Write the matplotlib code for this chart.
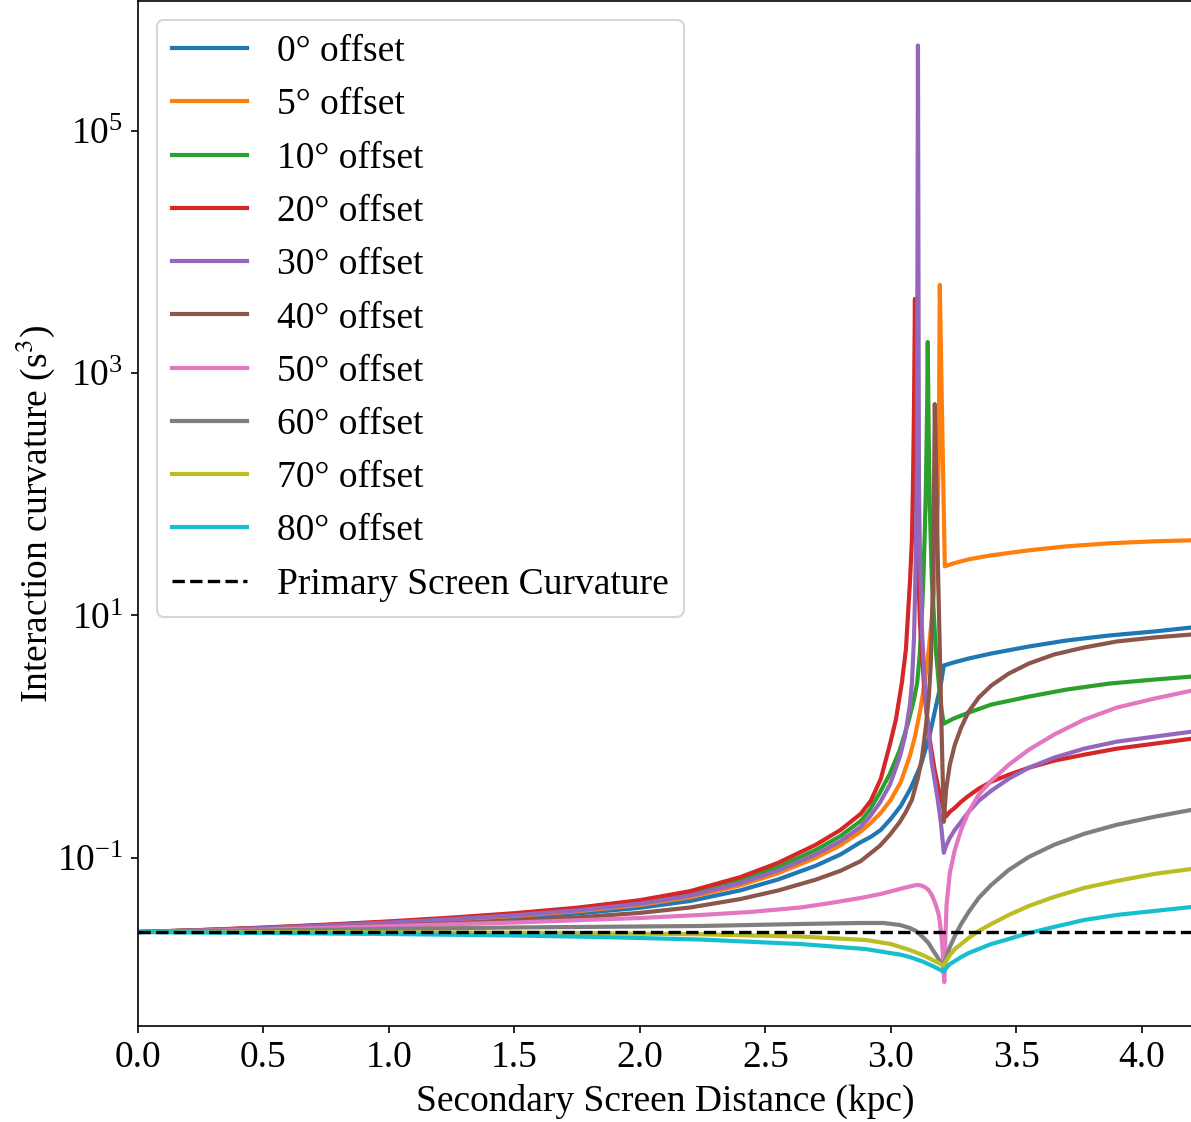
import matplotlib
matplotlib.use("Agg")
import matplotlib.pyplot as plt
from matplotlib.ticker import NullLocator

plt.rcParams['font.family'] = ['Liberation Serif', 'DejaVu Serif']
plt.rcParams['mathtext.fontset'] = 'stix'
plt.rcParams['font.size'] = 18
plt.rcParams['lines.linewidth'] = 2.0

# Secondary screen distance (kpc) and interaction curvature (s^3) per offset angle
x_0 = [0, 0.25, 0.5, 0.75, 1.0, 1.25, 1.5, 1.75, 2.0, 2.2, 2.4, 2.55, 2.7, 2.8,
       2.88, 2.92, 2.96, 3.0, 3.04, 3.08, 3.12, 3.155, 3.175, 3.183, 3.199,
       3.211, 3.25, 3.31, 3.40, 3.55, 3.70, 3.87, 4.05, 4.2]
y_0 = [0.02445, 0.02516, 0.02608, 0.02720, 0.02852, 0.03009, 0.03210, 0.03477,
       0.03875, 0.04410, 0.05396, 0.06628, 0.08602, 0.1069, 0.1348, 0.1491,
       0.1703, 0.2101, 0.2691, 0.3790, 0.5870, 1.039, 1.609, 1.910, 2.690,
       3.863, 4.090, 4.412, 4.853, 5.543, 6.214, 6.835, 7.377, 7.960]

x_5 = [0, 0.25, 0.5, 0.75, 1.0, 1.25, 1.5, 1.75, 2.0, 2.2, 2.4, 2.55, 2.7, 2.8,
       2.88, 2.92, 2.96, 3.0, 3.04, 3.076, 3.096, 3.116, 3.135, 3.151, 3.163,
       3.175, 3.183, 3.187, 3.191, 3.195, 3.205, 3.215, 3.25, 3.31, 3.40, 3.55,
       3.70, 3.87, 4.05, 4.2]
y_5 = [0.02445, 0.02525, 0.02628, 0.02756, 0.02901, 0.03084, 0.03315, 0.03626,
       0.04087, 0.04732, 0.05935, 0.07472, 0.09997, 0.1273, 0.1649, 0.1946,
       0.2354, 0.3015, 0.4247, 0.6966, 1.0, 1.609, 2.794, 5.237, 9.266, 18.74,
       42.48, 82.67, 235.4, 5337, 344.5, 25.41, 26.90, 29.03, 31.33, 34.45,
       37.18, 39.37, 40.89, 41.68]

x_10 = [0, 0.25, 0.5, 0.75, 1.0, 1.25, 1.5, 1.75, 2.0, 2.2, 2.4, 2.55, 2.7, 2.8,
        2.88, 2.916, 2.956, 2.996, 3.036, 3.068, 3.092, 3.105, 3.116, 3.124,
        3.129, 3.135, 3.139, 3.142, 3.145, 3.147, 3.151, 3.155, 3.163, 3.179,
        3.195, 3.203, 3.211, 3.25, 3.31, 3.40, 3.55, 3.70, 3.87, 4.05, 4.2]
y_10 = [0.02445, 0.02535, 0.02648, 0.02793, 0.02958, 0.03161, 0.03424, 0.03774,
        0.04319, 0.05077, 0.06515, 0.08408, 0.1160, 0.1517, 0.2017, 0.2492,
        0.3445, 0.4945, 0.7808, 1.281, 2.022, 2.794, 5.041, 10.79, 18.74, 46.71,
        100.0, 235.4, 609.8, 1804, 284.8, 82.67, 20.61, 5.237, 2.224, 1.609,
        1.281, 1.409, 1.579, 1.839, 2.141, 2.446, 2.741, 2.959, 3.132]

x_20 = [0, 0.25, 0.5, 0.75, 1.0, 1.25, 1.5, 1.75, 2.0, 2.2, 2.4, 2.55, 2.7, 2.8,
        2.88, 2.92, 2.96, 2.996, 3.02, 3.044, 3.060, 3.076, 3.084, 3.088, 3.092,
        3.096, 3.100, 3.104, 3.116, 3.135, 3.155, 3.175, 3.195, 3.219, 3.235,
        3.255, 3.28, 3.31, 3.35, 3.40, 3.47, 3.55, 3.65, 3.77, 3.90, 4.05, 4.2]
y_20 = [0.02445, 0.02540, 0.02663, 0.02814, 0.02992, 0.03216, 0.03497, 0.03882,
        0.04478, 0.05315, 0.06938, 0.09089, 0.1280, 0.1703, 0.2309, 0.2959,
        0.4496, 0.8589, 1.382, 2.794, 5.237, 18.74, 42.48, 116.5, 467.1, 4089,
        210.1, 52.37, 8.589, 2.141, 0.9445, 0.5236, 0.3317, 0.2183, 0.2399,
        0.2589, 0.2903, 0.3254, 0.3718, 0.4247, 0.4853, 0.5543, 0.6334, 0.7099,
        0.7960, 0.8752, 0.9627]

x_30 = [0, 0.25, 0.5, 0.75, 1.0, 1.25, 1.5, 1.75, 2.0, 2.2, 2.4, 2.55, 2.7, 2.8,
        2.88, 2.916, 2.956, 2.996, 3.036, 3.056, 3.076, 3.084, 3.092, 3.096,
        3.100, 3.104, 3.108, 3.112, 3.116, 3.124, 3.139, 3.163, 3.187, 3.199,
        3.211, 3.22, 3.235, 3.255, 3.28, 3.31, 3.35, 3.40, 3.47, 3.55, 3.65,
        3.77, 3.90, 4.05, 4.2]
y_30 = [0.02445, 0.02530, 0.02638, 0.02772, 0.02924, 0.03119, 0.03360, 0.03688,
        0.04189, 0.04878, 0.06189, 0.07866, 0.1066, 0.1376, 0.1804, 0.2183,
        0.2848, 0.4012, 0.6834, 1.0, 1.839, 2.794, 6.334, 13.56, 38.62, 160.9,
        504000, 118.7, 30.16, 7.516, 1.874, 0.6096, 0.3015, 0.1983, 0.1100,
        0.1257, 0.1463, 0.1703, 0.1983, 0.2399, 0.2959, 0.3579, 0.4496, 0.5543,
        0.6705, 0.7960, 0.9093, 1.0, 1.100]

x_40 = [0, 0.25, 0.5, 0.75, 1.0, 1.25, 1.5, 1.75, 2.0, 2.2, 2.4, 2.55, 2.7, 2.8,
        2.88, 2.916, 2.956, 2.996, 3.036, 3.06, 3.084, 3.108, 3.124, 3.139,
        3.151, 3.159, 3.167, 3.171, 3.175, 3.179, 3.187, 3.195, 3.203, 3.211,
        3.22, 3.235, 3.255, 3.28, 3.31, 3.35, 3.40, 3.47, 3.55, 3.65, 3.77,
        3.90, 4.05, 4.2]
y_40 = [0.02445, 0.02501, 0.02574, 0.02658, 0.02761, 0.02879, 0.03032, 0.03228,
        0.03517, 0.03897, 0.04573, 0.05376, 0.06603, 0.07836, 0.09406, 0.1079,
        0.1257, 0.1549, 0.1983, 0.2399, 0.3015, 0.4583, 0.6705, 1.187, 2.101,
        3.936, 16.40, 62.14, 554.3, 235.4, 29.03, 5.237, 0.9445, 0.1983,
        0.3648, 0.5870, 0.8589, 1.187, 1.609, 2.101, 2.639, 3.317, 4.012, 4.759,
        5.439, 6.097, 6.580, 6.966]

x_50 = [0, 0.5, 1.0, 1.5, 2.0, 2.24, 2.44, 2.64, 2.76, 2.88, 2.96, 3.036,
        3.076, 3.104, 3.12, 3.135, 3.15, 3.163, 3.175, 3.183, 3.191, 3.195,
        3.199, 3.203, 3.207, 3.209, 3.213, 3.217, 3.222, 3.235, 3.255, 3.28,
        3.31, 3.35, 3.40, 3.47, 3.55, 3.65, 3.77, 3.90, 4.05, 4.2]
y_50 = [0.02445, 0.02564, 0.02741, 0.02929, 0.03191, 0.03379, 0.03578, 0.03897,
        0.04245, 0.04669, 0.05039, 0.05542, 0.05812, 0.05980, 0.05924, 0.05757,
        0.05439, 0.04945, 0.04329, 0.03860, 0.03381, 0.02959, 0.02541, 0.02101,
        0.01640, 0.01305, 0.009445, 0.02101, 0.04089, 0.07517, 0.1165, 0.1703,
        0.2399, 0.3317, 0.4329, 0.5870, 0.7808, 1.039, 1.382, 1.737, 2.061,
        2.400]

x_60 = [0, 0.5, 1.0, 1.5, 2.0, 2.24, 2.64, 2.88, 2.97, 3.036, 3.076, 3.10,
        3.127, 3.15, 3.167, 3.183, 3.195, 3.211, 3.22, 3.235, 3.255, 3.28, 3.31,
        3.35, 3.40, 3.47, 3.55, 3.65, 3.77, 3.90, 4.05, 4.2]
y_60 = [0.02445, 0.02517, 0.02589, 0.02665, 0.02716, 0.02742, 0.02848, 0.02903,
        0.02903, 0.02795, 0.02638, 0.02493, 0.02224, 0.01984, 0.01737, 0.01549,
        0.01408, 0.01257, 0.01492, 0.01839, 0.02266, 0.02848, 0.03578, 0.04671,
        0.05980, 0.07959, 0.1019, 0.1281, 0.1579, 0.1874, 0.2183, 0.2492]

x_70 = [0, 0.5, 1.0, 1.5, 1.84, 2.24, 2.64, 2.9, 3.0, 3.076, 3.127, 3.167,
        3.195, 3.211, 3.22, 3.235, 3.255, 3.28, 3.31, 3.35, 3.40, 3.47, 3.55,
        3.65, 3.77, 3.90, 4.05, 4.2]
y_70 = [0.02445, 0.02445, 0.02431, 0.02413, 0.02390, 0.02341, 0.02245, 0.02101,
        0.01946, 0.01737, 0.01579, 0.01435, 0.01343, 0.01280, 0.01408, 0.01579,
        0.01770, 0.01946, 0.02182, 0.02493, 0.02848, 0.03381, 0.04013, 0.04761,
        0.05650, 0.06455, 0.07375, 0.08112]

x_80 = [0, 0.5, 1.0, 1.5, 1.84, 2.24, 2.64, 2.9, 2.96, 3.036, 3.076, 3.127,
        3.167, 3.195, 3.211, 3.22, 3.235, 3.255, 3.28, 3.31, 3.35, 3.40, 3.47,
        3.55, 3.65, 3.77, 3.90, 4.05, 4.2]
y_80 = [0.02445, 0.02400, 0.02354, 0.02288, 0.02224, 0.02121, 0.01946, 0.01770,
        0.01688, 0.01594, 0.01520, 0.01395, 0.01280, 0.01198, 0.01143, 0.01233,
        0.01330, 0.01408, 0.01520, 0.01640, 0.01770, 0.01946, 0.02141, 0.02400,
        0.02691, 0.03073, 0.03381, 0.03648, 0.03936]

primary_curvature = 0.02445

offsets = [0, 5, 10, 20, 30, 40, 50, 60, 70, 80]
series_x = [x_0, x_5, x_10, x_20, x_30, x_40, x_50, x_60, x_70, x_80]
series_y = [y_0, y_5, y_10, y_20, y_30, y_40, y_50, y_60, y_70, y_80]

W, H, DPI = 1191, 1122, 150
fig = plt.figure(figsize=(W / DPI, H / DPI), dpi=DPI)
ax = fig.add_axes([138 / W, 1 - 1026 / H, (1192 - 138) / W, (1026 - 1) / H])

for off, xs, ys in zip(offsets, series_x, series_y):
    ax.plot(xs, ys, label=f"{off}° offset")
ax.axhline(primary_curvature, color='black', linestyle='--', linewidth=1.6,
           label='Primary Screen Curvature')

ax.set_yscale('log')
ax.set_xlim(0, 4.2)
ax.set_ylim(10 ** -2.387, 10 ** 6.069)
ax.set_yticks([1e-1, 1e1, 1e3, 1e5])
ax.yaxis.set_minor_locator(NullLocator())
ax.set_xticks([0.0, 0.5, 1.0, 1.5, 2.0, 2.5, 3.0, 3.5, 4.0])

ax.set_xlabel('Secondary Screen Distance (kpc)')
ax.set_ylabel('Interaction curvature (s$^3$)', labelpad=0)
ax.legend(loc='upper left')

fig.savefig('out.png', dpi=DPI)
